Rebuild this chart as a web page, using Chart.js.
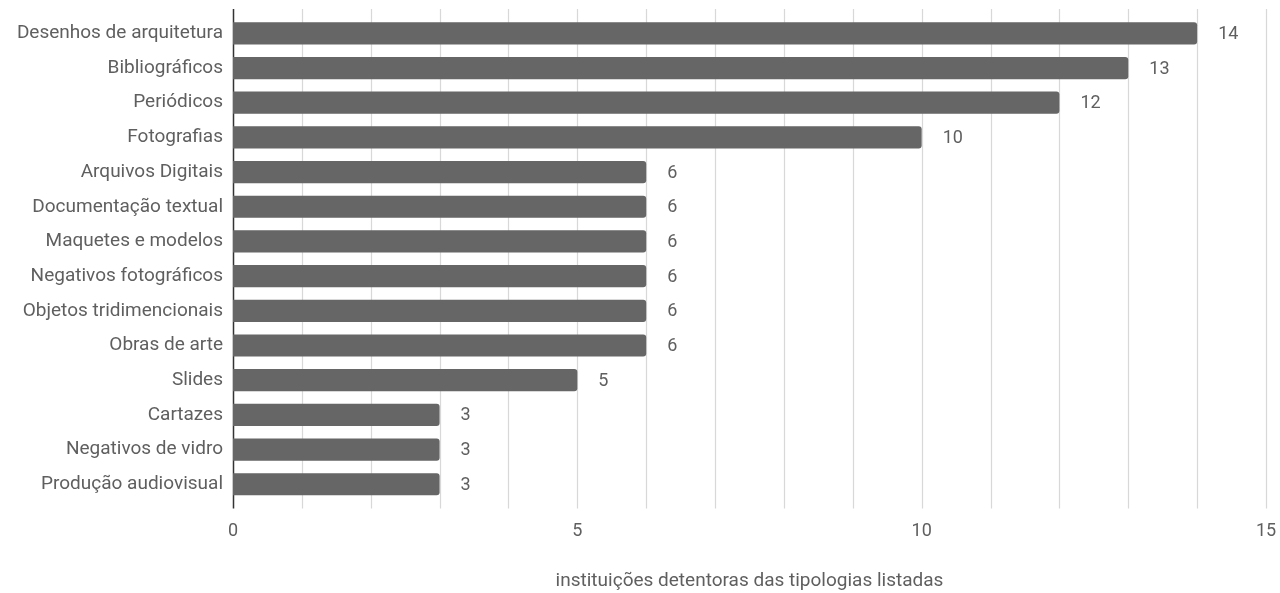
<!DOCTYPE html>
<html>
<head>
<meta charset="utf-8">
<script src="https://cdn.jsdelivr.net/npm/chart.js@4"></script>
<style>
    html, body { margin: 0; padding: 0; background: #fff; }
    #wrap { width: 1280px; height: 593px; }
</style>
</head>
<body>
<div id="wrap"><canvas id="chart"></canvas></div>
<script>
    const categories = [
        'Desenhos de arquitetura', 'Bibliográficos', 'Periódicos', 'Fotografias',
        'Arquivos Digitais', 'Documentação textual', 'Maquetes e modelos',
        'Negativos fotográficos', 'Objetos tridimencionais', 'Obras de arte',
        'Slides', 'Cartazes', 'Negativos de vidro', 'Produção audiovisual'
    ];
    const values = [14, 13, 12, 10, 6, 6, 6, 6, 6, 6, 5, 3, 3, 3];
    const xTickLabels = [0, 5, 10, 15];
    const axisTitle = 'instituições detentoras das tipologias listadas';

    const textColor = '#5f5f5f';
    const fontFamily = 'Roboto, "Noto Sans", sans-serif';

    // vertical grid lines that run a little past the bars, like the original
    const gridPlugin = {
        id: 'gridLines',
        beforeDatasetsDraw(chart) {
            const { ctx, chartArea, scales } = chart;
            const x = scales.x;
            ctx.save();
            for (let v = x.min; v <= x.max; v++) {
                const px = Math.round(x.getPixelForValue(v)) + 0.5;
                ctx.strokeStyle = v === 0 ? '#333333' : '#d8d8d8';
                ctx.lineWidth = v === 0 ? 1.5 : 1.2;
                ctx.beginPath();
                ctx.moveTo(px, chartArea.top - 7);
                ctx.lineTo(px, chartArea.bottom + 7);
                ctx.stroke();
            }
            ctx.restore();
        }
    };

    // numbers at the end of each bar
    const valueLabels = {
        id: 'valueLabels',
        afterDatasetsDraw(chart) {
            const { ctx } = chart;
            const meta = chart.getDatasetMeta(0);
            ctx.save();
            ctx.fillStyle = textColor;
            ctx.font = '18px ' + fontFamily;
            ctx.textAlign = 'left';
            ctx.textBaseline = 'middle';
            meta.data.forEach((bar, i) => {
                ctx.fillText(String(values[i]), bar.x + 21, bar.y + 1);
            });
            ctx.restore();
        }
    };

    new Chart(document.getElementById('chart'), {
        type: 'bar',
        data: {
            labels: categories,
            datasets: [{
                data: values,
                backgroundColor: '#666666',
                borderRadius: { topRight: 3, bottomRight: 3 },
                borderSkipped: 'start',
                barPercentage: 0.64,
                categoryPercentage: 1
            }]
        },
        options: {
            indexAxis: 'y',
            responsive: true,
            maintainAspectRatio: false,
            animation: false,
            layout: { padding: { top: 16, right: 0, left: 0, bottom: 0 } },
            plugins: {
                legend: { display: false },
                tooltip: { enabled: false }
            },
            scales: {
                x: {
                    min: 0,
                    max: 15,
                    grid: { display: false },
                    border: { display: false },
                    afterFit: s => { s.paddingRight = 14; s.paddingLeft = 0; },
                    ticks: {
                        stepSize: 1,
                        autoSkip: false,
                        maxRotation: 0,
                        padding: 11,
                        color: textColor,
                        font: { size: 18, family: fontFamily },
                        callback: v => xTickLabels.includes(v) ? String(v) : ''
                    },
                    title: {
                        display: true,
                        text: axisTitle,
                        color: textColor,
                        font: { size: 19, family: fontFamily },
                        padding: { top: 17, bottom: 0 }
                    }
                },
                y: {
                    grid: { display: false },
                    border: { display: false },
                    afterFit: s => { s.width = 233; s.paddingTop = 0; s.paddingBottom = 0; },
                    ticks: {
                        padding: 2,
                        color: textColor,
                        font: { size: 19, family: fontFamily }
                    }
                }
            }
        },
        plugins: [gridPlugin, valueLabels]
    });
</script>
</body>
</html>
